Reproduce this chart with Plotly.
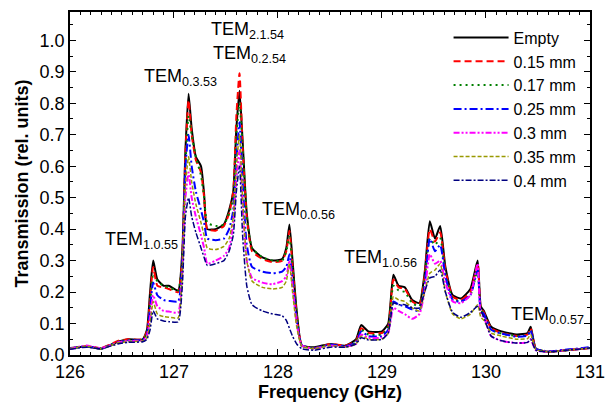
import plotly.graph_objects as go

freq = [126.0, 126.16, 126.3, 126.46, 126.56, 126.7, 126.74, 126.77, 126.8, 126.84,
        126.9, 126.95, 127.04, 127.08, 127.11, 127.14, 127.17, 127.21, 127.26, 127.29,
        127.32, 127.4, 127.48, 127.53, 127.57, 127.6, 127.63, 127.66, 127.7, 127.75,
        127.85, 127.95, 128.04, 128.08, 128.11, 128.14, 128.18, 128.23, 128.35, 128.5,
        128.65, 128.75, 128.8, 128.87, 129.0, 129.06, 129.11, 129.16, 129.22, 129.29,
        129.36, 129.41, 129.46, 129.51, 129.56, 129.61, 129.68, 129.76, 129.85, 129.92,
        129.95, 129.98, 130.05, 130.15, 130.3, 130.4, 130.43, 130.48, 130.6, 130.8,
        131.0]

empty = [0.022, 0.027, 0.02, 0.042, 0.05, 0.05, 0.08, 0.2, 0.30, 0.24,
         0.22, 0.22, 0.205, 0.33, 0.65, 0.83, 0.72, 0.63, 0.60, 0.51,
         0.40, 0.40, 0.415, 0.46, 0.52, 0.72, 0.84, 0.68, 0.45, 0.34,
         0.31, 0.30, 0.305, 0.34, 0.415, 0.30, 0.14, 0.03, 0.025, 0.035,
         0.03, 0.05, 0.095, 0.075, 0.075, 0.10, 0.255, 0.22, 0.215, 0.175,
         0.165, 0.26, 0.425, 0.37, 0.41, 0.28, 0.19, 0.18, 0.21, 0.30,
         0.155, 0.14, 0.09, 0.075, 0.065, 0.07, 0.09, 0.02, 0.01, 0.016,
         0.022]

mm015 = [0.02, 0.028, 0.022, 0.045, 0.05, 0.05, 0.075, 0.18, 0.28, 0.22,
         0.215, 0.21, 0.2, 0.32, 0.64, 0.81, 0.70, 0.62, 0.58, 0.50,
         0.40, 0.395, 0.41, 0.45, 0.52, 0.76, 0.895, 0.66, 0.44, 0.33,
         0.305, 0.295, 0.30, 0.33, 0.395, 0.28, 0.13, 0.03, 0.022, 0.035,
         0.03, 0.045, 0.085, 0.07, 0.07, 0.09, 0.24, 0.215, 0.21, 0.17,
         0.16, 0.25, 0.40, 0.36, 0.39, 0.27, 0.185, 0.175, 0.2, 0.29,
         0.15, 0.135, 0.085, 0.07, 0.06, 0.065, 0.085, 0.02, 0.01, 0.016,
         0.022]

mm017 = [0.022, 0.026, 0.022, 0.042, 0.048, 0.048, 0.07, 0.16, 0.25, 0.235,
         0.22, 0.215, 0.205, 0.31, 0.6, 0.76, 0.70, 0.63, 0.57, 0.5,
         0.42, 0.41, 0.415, 0.45, 0.5, 0.7, 0.80, 0.66, 0.44, 0.34,
         0.31, 0.30, 0.3, 0.33, 0.375, 0.28, 0.13, 0.03, 0.022, 0.033,
         0.028, 0.04, 0.08, 0.065, 0.065, 0.09, 0.22, 0.205, 0.2, 0.165,
         0.155, 0.24, 0.37, 0.35, 0.37, 0.26, 0.18, 0.17, 0.19, 0.27,
         0.145, 0.13, 0.08, 0.068, 0.06, 0.062, 0.08, 0.02, 0.01, 0.016,
         0.022]

mm025 = [0.02, 0.028, 0.02, 0.04, 0.046, 0.048, 0.065, 0.15, 0.23, 0.19,
         0.175, 0.172, 0.17, 0.3, 0.6, 0.70, 0.6, 0.52, 0.46, 0.42,
         0.37, 0.365, 0.37, 0.4, 0.46, 0.62, 0.74, 0.55, 0.35, 0.28,
         0.265, 0.26, 0.265, 0.28, 0.32, 0.24, 0.11, 0.03, 0.022, 0.033,
         0.028, 0.04, 0.075, 0.06, 0.06, 0.08, 0.17, 0.16, 0.155, 0.145,
         0.14, 0.22, 0.37, 0.33, 0.35, 0.25, 0.175, 0.17, 0.19, 0.27,
         0.14, 0.13, 0.08, 0.068, 0.058, 0.062, 0.078, 0.02, 0.012, 0.018,
         0.025]

mm030 = [0.02, 0.03, 0.022, 0.04, 0.045, 0.045, 0.06, 0.12, 0.19, 0.155,
         0.14, 0.138, 0.135, 0.26, 0.5, 0.58, 0.5, 0.44, 0.38, 0.34,
         0.29, 0.3, 0.315, 0.34, 0.42, 0.56, 0.65, 0.48, 0.30, 0.245,
         0.23, 0.225, 0.235, 0.25, 0.30, 0.22, 0.1, 0.03, 0.02, 0.03,
         0.026, 0.035, 0.065, 0.055, 0.055, 0.07, 0.15, 0.14, 0.13, 0.115,
         0.13, 0.2, 0.32, 0.29, 0.30, 0.23, 0.17, 0.165, 0.19, 0.29,
         0.13, 0.12, 0.06, 0.045, 0.038, 0.04, 0.05, 0.015, 0.01, 0.016,
         0.022]

mm035 = [0.02, 0.028, 0.02, 0.038, 0.042, 0.045, 0.055, 0.1, 0.17, 0.13,
         0.122, 0.12, 0.118, 0.27, 0.54, 0.63, 0.55, 0.48, 0.42, 0.38,
         0.34, 0.335, 0.345, 0.37, 0.44, 0.60, 0.70, 0.5, 0.30, 0.235,
         0.215, 0.21, 0.215, 0.235, 0.29, 0.2, 0.09, 0.028, 0.02, 0.03,
         0.025, 0.035, 0.06, 0.05, 0.05, 0.07, 0.185, 0.175, 0.17, 0.15,
         0.14, 0.2, 0.26, 0.27, 0.29, 0.2, 0.13, 0.115, 0.13, 0.16,
         0.12, 0.11, 0.07, 0.06, 0.05, 0.052, 0.065, 0.018, 0.01, 0.016,
         0.022]

mm040 = [0.018, 0.025, 0.02, 0.035, 0.04, 0.042, 0.05, 0.08, 0.14, 0.115,
         0.108, 0.106, 0.105, 0.22, 0.44, 0.50, 0.44, 0.39, 0.34, 0.31,
         0.285, 0.29, 0.3, 0.33, 0.38, 0.52, 0.60, 0.38, 0.22, 0.16,
         0.14, 0.13, 0.125, 0.11, 0.085, 0.06, 0.035, 0.02, 0.015, 0.025,
         0.025, 0.035, 0.055, 0.048, 0.05, 0.07, 0.165, 0.16, 0.16, 0.15,
         0.15, 0.2, 0.245, 0.25, 0.27, 0.2, 0.135, 0.12, 0.135, 0.155,
         0.14, 0.12, 0.06, 0.045, 0.038, 0.04, 0.05, 0.015, 0.01, 0.016,
         0.022]

series_names = ["Empty", "0.15 mm", "0.17 mm", "0.25 mm", "0.3 mm", "0.35 mm", "0.4 mm"]
series_values = [empty, mm015, mm017, mm025, mm030, mm035, mm040]

x_tick_values = [126, 127, 128, 129, 130, 131]
x_tick_labels = ["126", "127", "128", "129", "130", "131"]

mode_labels = ["TEM<sub>1.0.55</sub>", "TEM<sub>0.3.53</sub>", "TEM<sub>2.1.54</sub>",
               "TEM<sub>0.2.54</sub>", "TEM<sub>0.0.56</sub>", "TEM<sub>1.0.56</sub>",
               "TEM<sub>0.0.57</sub>"]
mode_label_x = [126.69, 127.06, 127.71, 127.73, 128.2, 128.99, 130.59]
mode_label_y = [0.365, 0.883, 1.03, 0.955, 0.46, 0.308, 0.127]

colors = ["#000000", "#FF0000", "#008000", "#0000FF", "#FF00FF", "#999900", "#000080"]
dashes = ["solid", "7px,4px", "2px,4px", "8px,3px,2px,3px", "6px,2px,2px,2px,2px,2px",
          "4px,2px", "6px,2px,2px,2px"]
widths = [2, 2, 2, 2, 2, 1.5, 1.5]

FONT = "Arial, Liberation Sans, sans-serif"

fig = go.Figure()
for name, vals, c, d, w in zip(series_names, series_values, colors, dashes, widths):
    fig.add_trace(go.Scatter(x=freq, y=vals, name=name, mode="lines",
                             line=dict(color=c, dash=d, width=w, shape="spline", smoothing=0.5)))

for txt, ax_, ay_ in zip(mode_labels, mode_label_x, mode_label_y):
    fig.add_annotation(x=ax_, y=ay_, text=txt, showarrow=False,
                       font=dict(family=FONT, size=18, color="black"),
                       xanchor="center", yanchor="middle")

axis_common = dict(showline=True, linecolor="black", linewidth=1.5, mirror="ticks",
                   ticks="inside", ticklen=6, tickwidth=1.2, tickcolor="black",
                   showgrid=False, zeroline=False, ticklabeloverflow="allow",
                   tickfont=dict(family=FONT, size=18, color="black"))

fig.update_xaxes(range=[126, 131.0005], tickmode="array",
                 tickvals=x_tick_values, ticktext=x_tick_labels,
                 minor=dict(dtick=0.1, tick0=126, ticks="inside", ticklen=3, tickcolor="black"),
                 title=dict(text="<b>Frequency (GHz)</b>", font=dict(family=FONT, size=18, color="black"),
                            standoff=3),
                 **axis_common)
fig.update_yaxes(range=[0, 1.09], dtick=0.1, tick0=0, tickformat=".1f",
                 minor=dict(dtick=0.05, ticks="inside", ticklen=3, tickcolor="black"),
                 title=dict(text="<b>Transmission (rel. units)</b>", font=dict(family=FONT, size=18, color="black"),
                            standoff=6),
                 **axis_common)

fig.update_layout(width=605, height=404,
                  margin=dict(l=70, r=15, t=12, b=49, autoexpand=False),
                  paper_bgcolor="white", plot_bgcolor="white",
                  showlegend=True,
                  legend=dict(x=0.728, y=0.975, xanchor="left", yanchor="top",
                              bgcolor="rgba(0,0,0,0)", borderwidth=0,
                              font=dict(family=FONT, size=16, color="black"),
                              tracegroupgap=0, itemwidth=55))

# remove the browser's default 8px body margin so the figure fills the window exactly
fig.write_html("out.html", config={"displayModeBar": False},
               post_script="document.body.style.margin='0';document.body.style.overflow='hidden';")
